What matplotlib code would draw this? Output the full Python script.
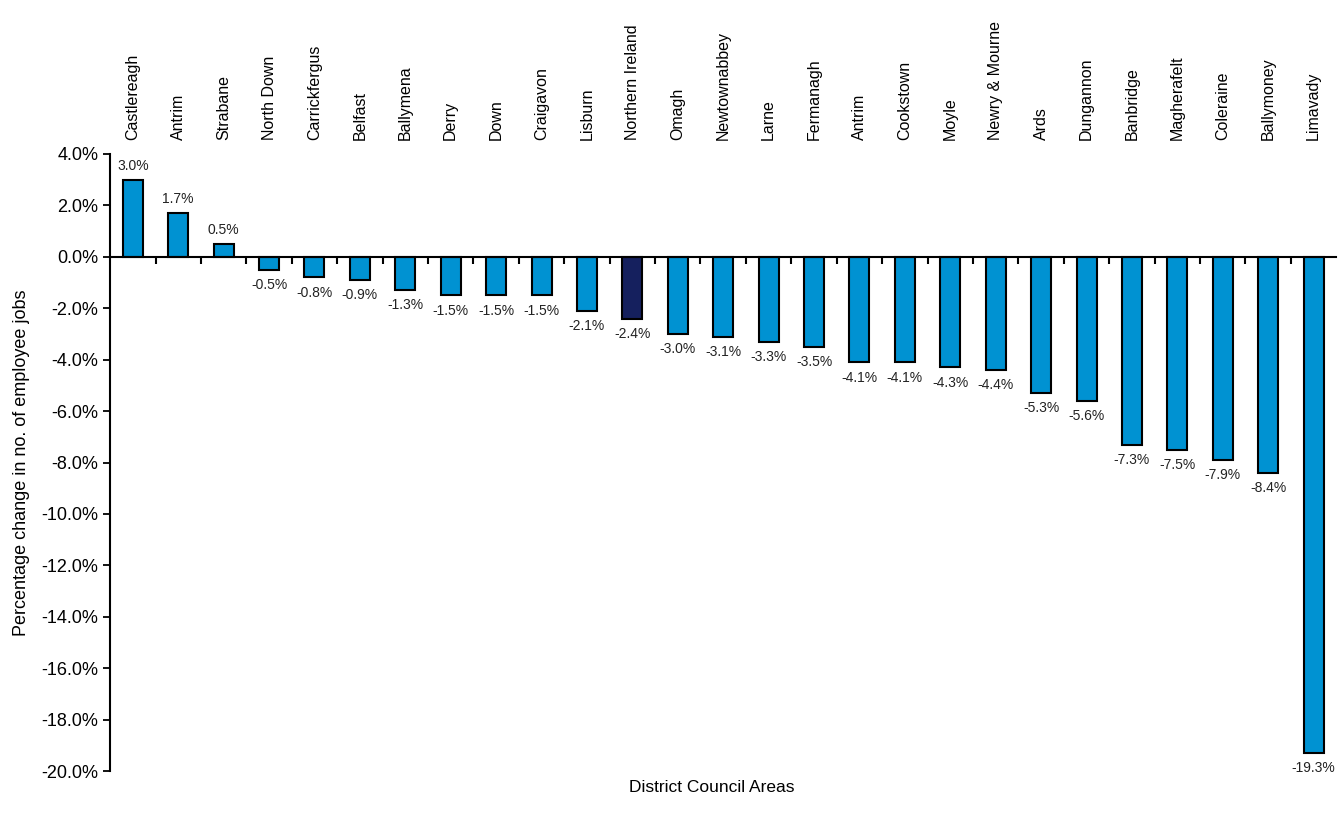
import matplotlib.pyplot as plt
from matplotlib.ticker import FuncFormatter

areas = ['Castlereagh', 'Antrim', 'Strabane', 'North Down', 'Carrickfergus', 'Belfast',
         'Ballymena', 'Derry', 'Down', 'Craigavon', 'Lisburn', 'Northern Ireland', 'Omagh',
         'Newtownabbey', 'Larne', 'Fermanagh', 'Antrim', 'Cookstown', 'Moyle',
         'Newry & Mourne', 'Ards', 'Dungannon', 'Banbridge', 'Magherafelt', 'Coleraine',
         'Ballymoney', 'Limavady']
change = [3.0, 1.7, 0.5, -0.5, -0.8, -0.9, -1.3, -1.5, -1.5, -1.5, -2.1, -2.4, -3.0,
          -3.1, -3.3, -3.5, -4.1, -4.1, -4.3, -4.4, -5.3, -5.6, -7.3, -7.5, -7.9, -8.4,
          -19.3]

plt.rcParams['font.family'] = ['Liberation Sans', 'DejaVu Sans']

fig = plt.figure(figsize=(13.43, 8.23), dpi=100)
ax = fig.add_axes([0.082, 0.063, 0.913, 0.75])

colors = ['#15205E' if a == 'Northern Ireland' else '#0092D2' for a in areas]
x = list(range(len(areas)))
ax.bar(x, change, width=0.44, color=colors, edgecolor='black', linewidth=1.5, zorder=2)

# value labels above positive bars, below negative ones
for xi, v in zip(x, change):
    off = 10 if v >= 0 else -11
    ax.annotate(f'{v:.1f}%', (xi, v), xytext=(0, off), textcoords='offset points',
                ha='center', va='center', fontsize=10, color='#222222')

ax.set_xlim(-0.5, len(areas) - 0.5)
ax.set_ylim(-20, 4)
ax.set_yticks(range(-20, 5, 2))
ax.yaxis.set_major_formatter(FuncFormatter(lambda v, p: f'{v:.1f}%'))
ax.tick_params(axis='y', labelsize=13, length=5, width=1.3, direction='out')

for s in ['top', 'right']:
    ax.spines[s].set_visible(False)
ax.spines['left'].set_linewidth(1.5)
ax.spines['bottom'].set_position(('data', 0))
ax.spines['bottom'].set_linewidth(1.5)
ax.spines['bottom'].set_zorder(3)
ax.set_xticks([i + 0.5 for i in x[:-1]])
ax.set_xticklabels([])
ax.tick_params(axis='x', length=5, width=1.5, direction='out')

top = ax.secondary_xaxis('top')
top.set_xticks(x)
top.set_xticklabels(areas, rotation=90, fontsize=11.5)
top.tick_params(length=0, pad=10)
top.spines['top'].set_visible(False)

ax.set_ylabel('Percentage change in no. of employee jobs', fontsize=13, labelpad=8)
fig.text(0.53, 0.043, 'District Council Areas', ha='center', va='center', fontsize=12.5)

fig.savefig('out.png', dpi=100)
